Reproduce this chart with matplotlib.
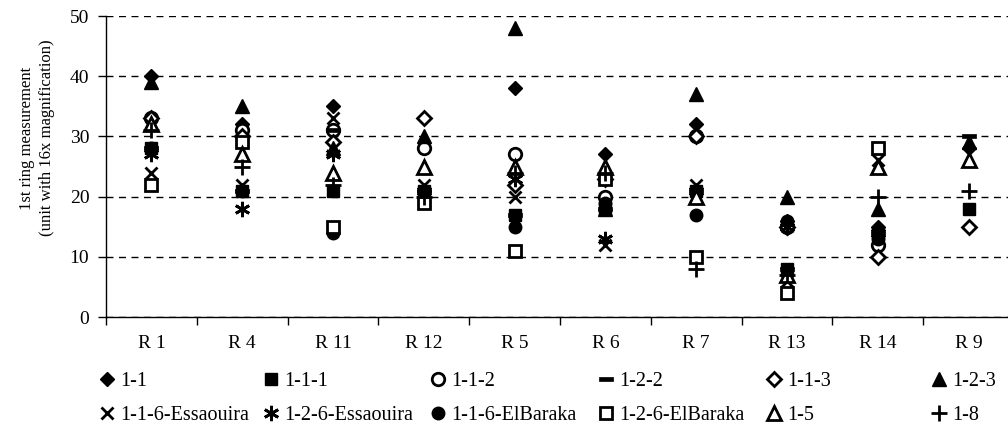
import numpy as np
import matplotlib
matplotlib.use("Agg")
import matplotlib.pyplot as plt
from matplotlib.path import Path

plt.rcParams['font.family'] = ['Liberation Serif', 'DejaVu Serif']

categories = ["R 1", "R 4", "R 11", "R 12", "R 5", "R 6", "R 7", "R 13", "R 14", "R 9"]
nan = np.nan
s_1_1 = [40, 32, 35, 21, 38, 27, 32, 16, 15, 28]
s_1_1_1 = [28, 21, 21, 21, 17, 18, 21, 8, 14, 18]
s_1_1_2 = [33, 31, 31, 28, 27, 20, 30, 15, 12, nan]
s_1_2_2 = [28, 21, 31, 21, 17, 18, 21, 8, 14, 30]
s_1_1_3 = [33, 30, 29, 33, 22, 23, 30, 15, 10, 15]
s_1_2_3 = [39, 35, 28, 30, 48, 18, 37, 20, 18, 29]
s_1_1_6_ess = [24, 22, 33, 22, 20, 12, 22, 6, 26, nan]
s_1_2_6_ess = [27, 18, 27, 21, 23, 13, 21, 15, 14, nan]
s_1_1_6_elb = [28, 21, 14, 21, 15, 19, 17, 16, 13, nan]
s_1_2_6_elb = [22, 29, 15, 19, 11, 23, 10, 4, 28, nan]
s_1_5 = [32, 27, 24, 25, 25, 25, 20, 7, 25, 26]
s_1_8 = [31, 25, 22, 20, 24, 24, 8, 7, 20, 21]

labels = ["1-1", "1-1-1", "1-1-2", "1-2-2", "1-1-3", "1-2-3",
          "1-1-6-Essaouira", "1-2-6-Essaouira", "1-1-6-ElBaraka", "1-2-6-ElBaraka", "1-5", "1-8"]
series = [s_1_1, s_1_1_1, s_1_1_2, s_1_2_2, s_1_1_3, s_1_2_3,
          s_1_1_6_ess, s_1_2_6_ess, s_1_1_6_elb, s_1_2_6_elb, s_1_5, s_1_8]

dash = Path([(-1, -0.3), (1, -0.3), (1, 0.3), (-1, 0.3), (-1, -0.3)],
            [Path.MOVETO, Path.LINETO, Path.LINETO, Path.LINETO, Path.CLOSEPOLY])
K = 'black'
W = 'white'
styles = [
    dict(marker='D', ms=7, mfc=K, mec=K, mew=1),
    dict(marker='s', ms=9, mfc=K, mec=K, mew=1),
    dict(marker='o', ms=9, mfc=W, mec=K, mew=2),
    dict(marker=dash, ms=10, mfc=K, mec=K, mew=0.5),
    dict(marker='D', ms=7, mfc=W, mec=K, mew=2),
    dict(marker='^', ms=10, mfc=K, mec=K, mew=1),
    dict(marker='x', ms=9, mfc=K, mec=K, mew=2),
    dict(marker=(6, 2, 0), ms=11, mfc=K, mec=K, mew=2),
    dict(marker='o', ms=9, mfc=K, mec=K, mew=1),
    dict(marker='s', ms=9, mfc=W, mec=K, mew=2),
    dict(marker='^', ms=10, mfc=W, mec=K, mew=2),
    dict(marker='+', ms=11, mfc=K, mec=K, mew=2),
]

fig = plt.figure(figsize=(10.08, 4.44), dpi=100)
ax = fig.add_axes([106 / 1008, 1 - 317 / 444, 908 / 1008, 301 / 444])

x = np.arange(len(categories))
handles = []
for vals, lab, st in zip(series, labels, styles):
    h, = ax.plot(x, vals, linestyle='none', label=lab, clip_on=False, **st)
    handles.append(h)

ax.set_xlim(-0.5, len(categories) - 0.5)
ax.set_ylim(0, 50)
ax.set_yticks(np.arange(0, 51, 10))
ax.set_xticks(np.arange(-0.5, len(categories), 1.0))
ax.set_xticklabels([])
ax.set_xticks(x, minor=True)
ax.set_xticklabels(categories, minor=True)
ax.tick_params(axis='x', which='major', direction='out', length=6, width=1, color=K)
ax.tick_params(axis='x', which='minor', length=0, pad=13, labelsize=14)
ax.tick_params(axis='y', direction='out', length=6, width=1, labelsize=14, pad=6)
ax.yaxis.grid(True, linestyle=(0, (5, 4)), color=K, linewidth=1)
ax.set_axisbelow(True)
for s in ['top', 'right']:
    ax.spines[s].set_visible(False)
for s in ['left', 'bottom']:
    ax.spines[s].set_linewidth(1)
    ax.spines[s].set_color(K)

fig.text(37 / 1008, 1 - 138 / 444, "1st ring measurement\n(unit with 16x magnification)",
         rotation=90, ha='center', va='center', multialignment='center', fontsize=12,
         linespacing=1.35)

col_x = [98, 262, 429, 597, 765, 930]
for j in range(6):
    fig.legend(handles=[handles[j], handles[j + 6]], loc='upper left',
               bbox_to_anchor=(col_x[j] / 1008, 1 - 372 / 444), frameon=False,
               fontsize=14.5, handlelength=0.9, handletextpad=0.2, labelspacing=0.72,
               borderpad=0, borderaxespad=0, numpoints=1)

fig.savefig("out.png", dpi=100)
